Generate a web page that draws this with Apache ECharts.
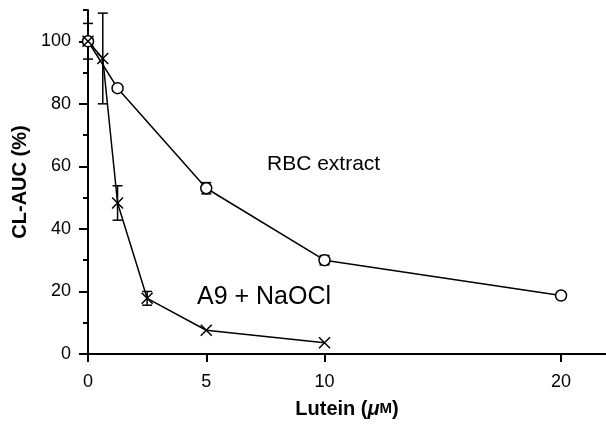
<!DOCTYPE html>
<html>
<head>
<meta charset="utf-8">
<script src="https://cdn.jsdelivr.net/npm/echarts@6/dist/echarts.min.js"></script>
<style>
  html, body { margin: 0; padding: 0; background: #fff; }
  #chart { width: 606px; height: 424px; }
</style>
</head>
<body>
<div id="chart"></div>
<script>
// data
var rbcX = [0, 1.25, 5, 10, 20];
var rbcY = [100, 85, 53, 30, 18.7];
var rbcErr = [0, 0, 1.8, 1.5, 0];

var a9X = [0, 0.625, 1.25, 2.5, 5, 10];
var a9Y = [100, 94.5, 48.3, 17.8, 7.6, 3.6];
var a9Err = [5.7, 14.5, 5.5, 2.2, 0, 0];

var xTicks = [0, 5, 10, 20];
var yTicks = [0, 20, 40, 60, 80, 100];
var yMinorTicks = [10, 30, 50, 70, 90, 110];

var FONT = "'Liberation Sans', Arial, sans-serif";

function pairs(xs, ys) {
    return xs.map(function (x, i) { return [x, ys[i]]; });
}
function errData(xs, ys, es) {
    return xs.map(function (x, i) { return [x, ys[i], es[i]]; });
}

// vertical error bar with caps
function errorBar(params, api) {
    var x = api.value(0), y = api.value(1), e = api.value(2);
    if (!e) return null;
    var top = api.coord([x, y + e]);
    var bot = api.coord([x, y - e]);
    var w = 5;
    var st = { stroke: '#000', lineWidth: 1.5 };
    return {
        type: 'group',
        children: [
            { type: 'line', shape: { x1: top[0], y1: top[1], x2: bot[0], y2: bot[1] }, style: st },
            { type: 'line', shape: { x1: top[0] - w, y1: top[1], x2: top[0] + w, y2: top[1] }, style: st },
            { type: 'line', shape: { x1: bot[0] - w, y1: bot[1], x2: bot[0] + w, y2: bot[1] }, style: st }
        ]
    };
}

var chart = echarts.init(document.getElementById('chart'), null, { renderer: 'canvas' });

var option = {
    animation: false,
    backgroundColor: '#fff',
    grid: { left: 88, right: 0, top: 10, bottom: 67 },
    xAxis: {
        type: 'value',
        min: 0,
        max: 21.9,
        name: 'Lutein ({mu|μ}{m|M})',
        nameLocation: 'middle',
        nameGap: 45,
        nameTextStyle: {
            fontFamily: FONT, fontWeight: 'bold', fontSize: 20, color: '#000',
            rich: {
                mu: { fontFamily: FONT, fontWeight: 'bold', fontStyle: 'italic', fontSize: 20, color: '#000' },
                m: { fontFamily: FONT, fontWeight: 'bold', fontSize: 15, color: '#000' }
            }
        },
        axisLine: { show: true, onZero: false, lineStyle: { color: '#000', width: 2 } },
        axisTick: { show: true, customValues: xTicks, length: 8, lineStyle: { color: '#000', width: 2 } },
        axisLabel: { customValues: xTicks, margin: 19, fontFamily: FONT, fontSize: 18, color: '#000' },
        splitLine: { show: false }
    },
    yAxis: [
        {
            type: 'value',
            min: 0,
            max: 110,
            interval: 10,
            position: 'left',
            name: 'CL-AUC (%)',
            nameLocation: 'middle',
            nameGap: 57,
            nameTextStyle: { fontFamily: FONT, fontWeight: 'bold', fontSize: 20, color: '#000' },
            axisLine: { show: true, onZero: false, lineStyle: { color: '#000', width: 2 } },
            axisTick: { show: true, customValues: yTicks, length: 9, lineStyle: { color: '#000', width: 2 } },
            axisLabel: { customValues: yTicks, margin: 17, fontFamily: FONT, fontSize: 18, color: '#000' },
            splitLine: { show: false }
        },
        {
            // short ticks at the odd tens
            type: 'value',
            min: 0,
            max: 110,
            interval: 10,
            position: 'left',
            axisLine: { show: false },
            axisTick: { show: true, customValues: yMinorTicks, length: 5, lineStyle: { color: '#000', width: 2 } },
            axisLabel: { show: false },
            splitLine: { show: false }
        }
    ],
    graphic: [
        {
            type: 'text', left: 267, top: 154,
            style: { text: 'RBC extract', fontFamily: FONT, fontSize: 21, fill: '#000' }
        },
        {
            type: 'text', left: 197, top: 285,
            style: { text: 'A9 + NaOCl', fontFamily: FONT, fontSize: 25, fill: '#000' }
        }
    ],
    series: [
        {
            name: 'RBC extract',
            type: 'line',
            data: pairs(rbcX, rbcY),
            symbol: 'circle',
            symbolSize: 11,
            showAllSymbol: true,
            lineStyle: { color: '#000', width: 1.5 },
            itemStyle: { color: '#fff', borderColor: '#000', borderWidth: 1.5 },
            z: 3
        },
        {
            name: 'A9 + NaOCl',
            type: 'line',
            data: pairs(a9X, a9Y),
            symbol: 'path://M0,0L10,10M10,0L0,10',
            symbolSize: 11,
            showAllSymbol: true,
            lineStyle: { color: '#000', width: 1.5 },
            itemStyle: { color: '#000', borderColor: '#000', borderWidth: 1.5 },
            z: 3
        },
        {
            type: 'custom',
            renderItem: errorBar,
            data: errData(rbcX, rbcY, rbcErr),
            clip: false,
            z: 2
        },
        {
            type: 'custom',
            renderItem: errorBar,
            data: errData(a9X, a9Y, a9Err),
            clip: false,
            z: 2
        }
    ]
};

chart.setOption(option);
</script>
</body>
</html>
